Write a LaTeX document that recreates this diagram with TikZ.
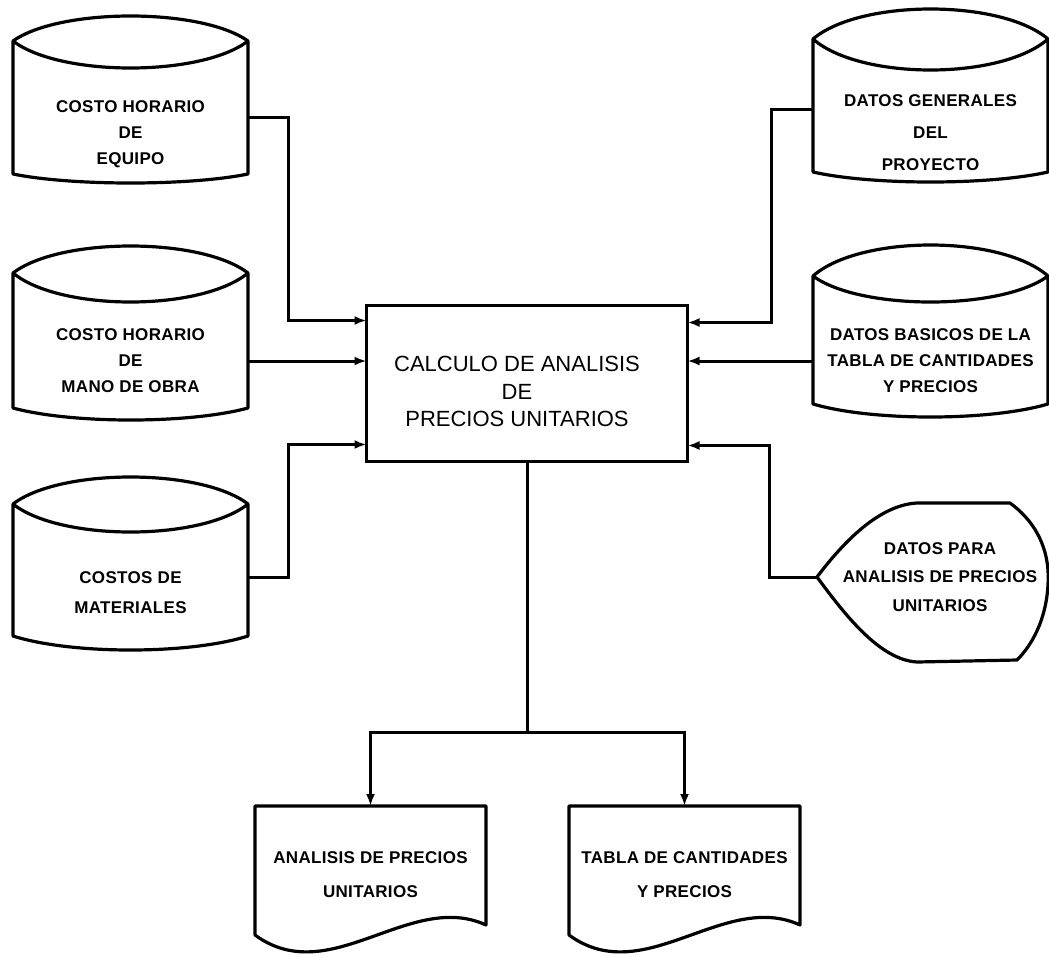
\documentclass[tikz,border=0pt]{standalone}
\usepackage{fontspec}
\setmainfont{Liberation Sans}
\newfontfamily\lblfont[LetterSpace=2]{Liberation Sans}
\usetikzlibrary{arrows.meta}

% stored-data drum: #1 left x, #2 right x, #3 top corner y, #4 top bulge y,
% #5 lens trough y, #6 bottom corner y, #7 bottom bulge y
\newcommand\drum[7]{%
  \draw[outline] (#1,#3)
    .. controls ({#1+0.2*(#2-#1)},{#3+(#4-#3)*4/3}) and ({#2-0.2*(#2-#1)},{#3+(#4-#3)*4/3}) .. (#2,#3)
    .. controls ({#2-0.2*(#2-#1)},{#3+(#5-#3)*4/3}) and ({#1+0.2*(#2-#1)},{#3+(#5-#3)*4/3}) .. (#1,#3)
    -- (#1,#6)
    .. controls ({#1+0.25*(#2-#1)},{#6+(#7-#6)*4/3}) and ({#2-0.25*(#2-#1)},{#6+(#7-#6)*4/3}) .. (#2,#6)
    -- (#2,#3);}

\begin{document}
\begin{tikzpicture}[x=1pt,y=-1pt,
  outline/.style={line width=3.2pt,line join=round},
  conn/.style={line width=3pt,-{Latex[length=12pt,width=9pt]}},
  lbl/.style={font=\lblfont\bfseries\fontsize{17}{26}\selectfont,align=center,
    inner sep=0pt,outer sep=0pt},
  drumnode/.style={lbl,minimum width=235pt},
  docnode/.style={lbl,minimum width=231pt,minimum height=138pt},
  proctext/.style={font=\fontsize{22}{27.5}\selectfont,align=center,inner sep=0pt},
  procbox/.style={draw,line width=3.2pt,inner sep=0pt,outer sep=0pt,
    minimum width=321pt,minimum height=156pt}]

\fill[white] (0,0) rectangle (1049,956);
\useasboundingbox (0,0) rectangle (1049,956);

% central process
\node[procbox,label={[proctext,xshift=-10pt,yshift=-8pt]center:
  CALCULO DE ANALISIS\\DE\\PRECIOS UNITARIOS}] (calc) at (527,383.5) {};

% input files on the left
\node[drumnode] (equipo) at (130.5,134) {COSTO HORARIO\\DE\\EQUIPO};
\node[drumnode] (mano) at (130.5,361) {COSTO HORARIO\\DE\\MANO DE OBRA};
\node[drumnode] (mat) at (130.5,593) {COSTOS DE\\[4pt]MATERIALES};
\drum{13}{248}{41}{16}{68}{174}{183}
\drum{13}{248}{273}{246}{302}{408}{420}
\drum{13}{248}{504}{477}{532}{636}{650}

% input files on the right
\node[drumnode] (gen) at (930.5,133) {DATOS GENERALES\\[6pt]DEL\\[6pt]PROYECTO};
\node[drumnode] (bas) at (930.5,361) {DATOS BASICOS DE LA\\TABLA DE CANTIDADES\\Y PRECIOS};
\drum{813}{1048}{39}{9}{70}{172}{182}
\drum{813}{1048}{276}{245}{302}{404}{417}

% manual input data
\node[lbl,minimum width=246pt] (pu) at (940,577)
  {DATOS PARA\\[2.5pt]ANALISIS DE PRECIOS\\[2.5pt]UNITARIOS};
\draw[outline] (817,577) .. controls (845,540) and (880,505) .. (917,503) -- (1010,503)
  .. controls (1040,525) and (1050,555) .. (1048,585)
  .. controls (1046,620) and (1032,645) .. (1017,660) -- (917,662)
  .. controls (880,660) and (845,615) .. (817,577) -- cycle;

% output documents
\node[docnode] (apu) at (370.5,875) {ANALISIS DE PRECIOS\\[8pt]UNITARIOS};
\node[docnode] (tcp) at (684.5,875) {TABLA DE CANTIDADES\\[8pt]Y PRECIOS};
\draw[outline] (255,806) -- (486,806) -- (486,925)
  .. controls (410,890) and (330,990) .. (255,935) -- cycle;
\draw[outline] (569,806) -- (800,806) -- (800,925)
  .. controls (724,890) and (644,990) .. (569,935) -- cycle;

% data flows into the process
\draw[conn] ([yshift=17pt]equipo.east) -| ([xshift=-78pt,yshift=-15pt]calc.north west)
  -- ([yshift=-15pt]calc.north west);
\draw[conn] (mano.east) -- (mano.east -| calc.west);
\draw[conn] ([yshift=16pt]mat.east) -| ([xshift=-78pt,yshift=17pt]calc.south west)
  -- ([yshift=17pt]calc.south west);
\draw[conn] ([yshift=24pt]gen.west) -| ([xshift=84pt,yshift=-17pt]calc.north east)
  -- ([yshift=-17pt]calc.north east);
\draw[conn] (bas.west) -- (bas.west -| calc.east);
\draw[conn] (pu.west) -| ([xshift=82pt,yshift=16pt]calc.south east)
  -- ([yshift=16pt]calc.south east);

% results
\draw[conn] (calc.south) -- ++(0,271) -| (apu.north);
\draw[conn] (calc.south) -- ++(0,271) -| (tcp.north);
\end{tikzpicture}
\end{document}
